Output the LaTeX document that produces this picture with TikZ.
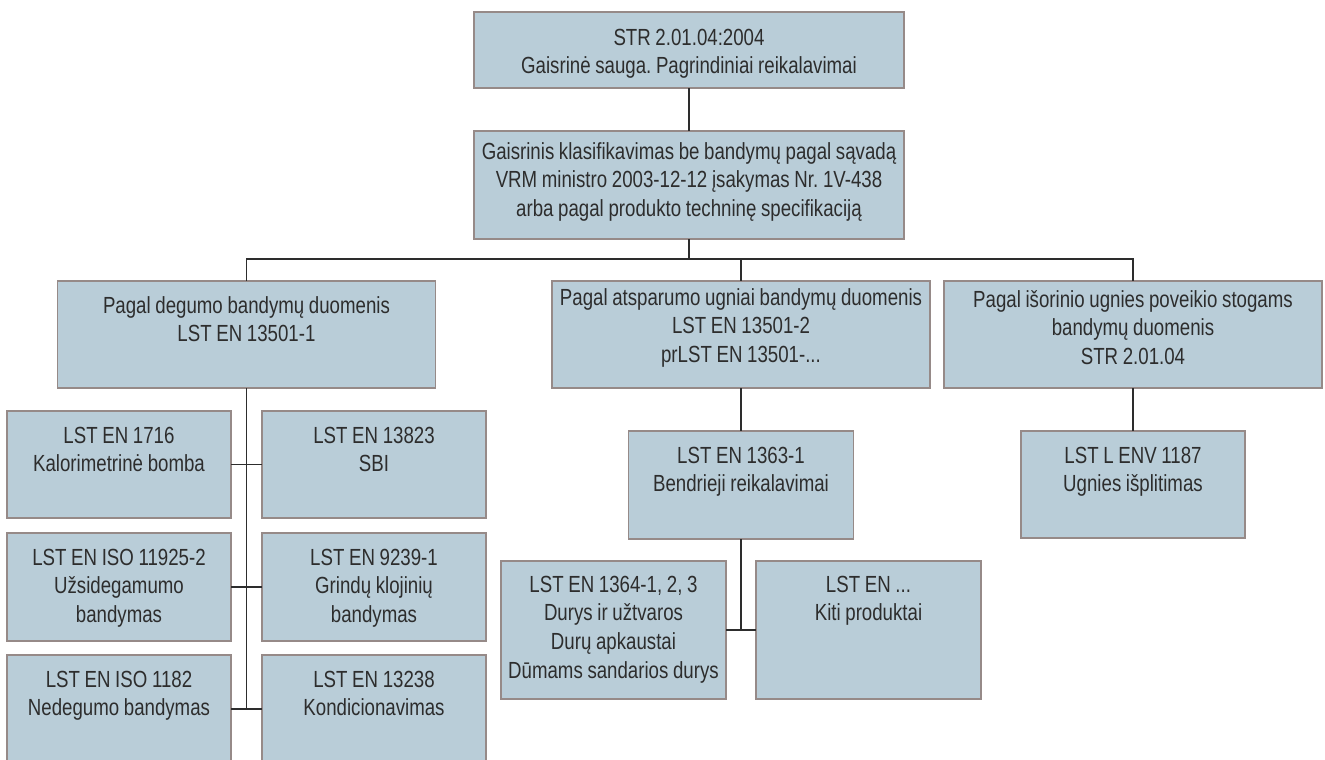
\documentclass[tikz,border=0pt]{standalone}
\usepackage{fontspec}
\setmainfont{Liberation Sans}[FakeStretch=0.80]
\usepackage{tikz}

\definecolor{boxfill}{RGB}{185,205,216}
\definecolor{boxline}{RGB}{150,138,136}
\definecolor{wire}{RGB}{45,45,45}
\definecolor{ink}{RGB}{45,45,45}

\tikzset{
  blok/.style={draw=boxline, fill=boxfill, line width=1.1pt, anchor=north,
    inner xsep=0pt, inner ysep=0pt, outer sep=0pt, align=center, text=ink,
    font=\fontsize{17.5}{21.5}\selectfont, text height=24pt,
    execute at begin node={\frenchspacing\spaceskip=0.2em\relax}},
  wide/.style={text width=322.5pt},
  mid/.style={text width=283.5pt},
  small/.style={text width=168pt},
  wire/.style={draw=wire, line width=1.1pt}
}

\begin{document}
\begin{tikzpicture}[x=0.75pt,y=0.75pt,yscale=-1,xscale=1]
\useasboundingbox (0,0) rectangle (1325,760);

% top level
\node[blok, wide, text height=24.75pt, text depth=32.25pt] (str) at (689,12) {STR 2.01.04:2004\\Gaisrinė sauga. Pagrindiniai reikalavimai};
\node[blok, wide, text height=21pt, text depth=60pt] (klas) at (689,131) {Gaisrinis klasifikavimas be bandymų pagal sąvadą\\VRM ministro 2003-12-12 įsakymas Nr. 1V-438\\arba pagal produkto techninę specifikaciją};

% second level
\node[blok, mid, text depth=56.25pt] (degum) at (246.5,281) {Pagal degumo bandymų duomenis\\LST EN 13501-1};
\node[blok, mid, text height=18pt, text depth=62.25pt] (atspar) at (741,281) {Pagal atsparumo ugniai bandymų duomenis\\LST EN 13501-2\\prLST EN 13501-...};
\node[blok, mid, text height=19.5pt, text depth=60.75pt] (stog) at (1133,281) {Pagal išorinio ugnies poveikio stogams\\bandymų duomenis\\STR 2.01.04};

% degumo bandymai
\node[blok, small, text depth=56.25pt] (kal) at (119,411) {LST EN 1716\\Kalorimetrinė bomba};
\node[blok, small, text depth=56.25pt] (sbi) at (374,411) {LST EN 13823\\SBI};
\node[blok, small, text depth=57pt] (uzs) at (119,533) {LST EN ISO 11925-2\\Užsidegamumo\\bandymas};
\node[blok, small, text depth=57pt] (grind) at (374,533) {LST EN 9239-1\\Grindų klojinių\\bandymas};
\node[blok, small, text depth=57pt] (nedeg) at (119,655) {LST EN ISO 1182\\Nedegumo bandymas};
\node[blok, small, text depth=57pt] (kond) at (374,655) {LST EN 13238\\Kondicionavimas};

% atsparumo ugniai bandymai
\node[blok, small, text width=168.75pt, text depth=57pt] (bendr) at (741,431) {LST EN 1363-1\\Bendrieji reikalavimai};
\node[blok, small, text width=168.75pt, text height=23.25pt, text depth=80.25pt] (durys) at (613.5,561) {LST EN 1364-1, 2, 3\\Durys ir užtvaros\\Durų apkaustai\\Dūmams sandarios durys};
\node[blok, small, text width=168.75pt, text height=23.25pt, text depth=80.25pt] (kiti) at (868.5,561) {LST EN ...\\Kiti produktai};

% stogai
\node[blok, small, text depth=56.25pt] (ugn) at (1133,431) {LST L ENV 1187\\Ugnies išplitimas};

% connections
\coordinate (bus) at (689,259);
\draw[wire] (str.south) -- (klas.north);
\draw[wire] (klas.south) -- (bus);
\draw[wire] (degum.north) |- (bus) -| (stog.north);
\draw[wire] (bus -| atspar.north) -- (atspar.north);

\draw[wire] (degum.south) -- (degum.south |- nedeg.east);
\draw[wire] (kal.east) -- (sbi.west);
\draw[wire] (uzs.east) -- (grind.west);
\draw[wire] (nedeg.east) -- (kond.west);

\draw[wire] (atspar.south) -- (bendr.north);
\draw[wire] (bendr.south) -- (bendr.south |- durys.east);
\draw[wire] (durys.east) -- (kiti.west);

\draw[wire] (stog.south) -- (ugn.north);

\end{tikzpicture}
\end{document}
